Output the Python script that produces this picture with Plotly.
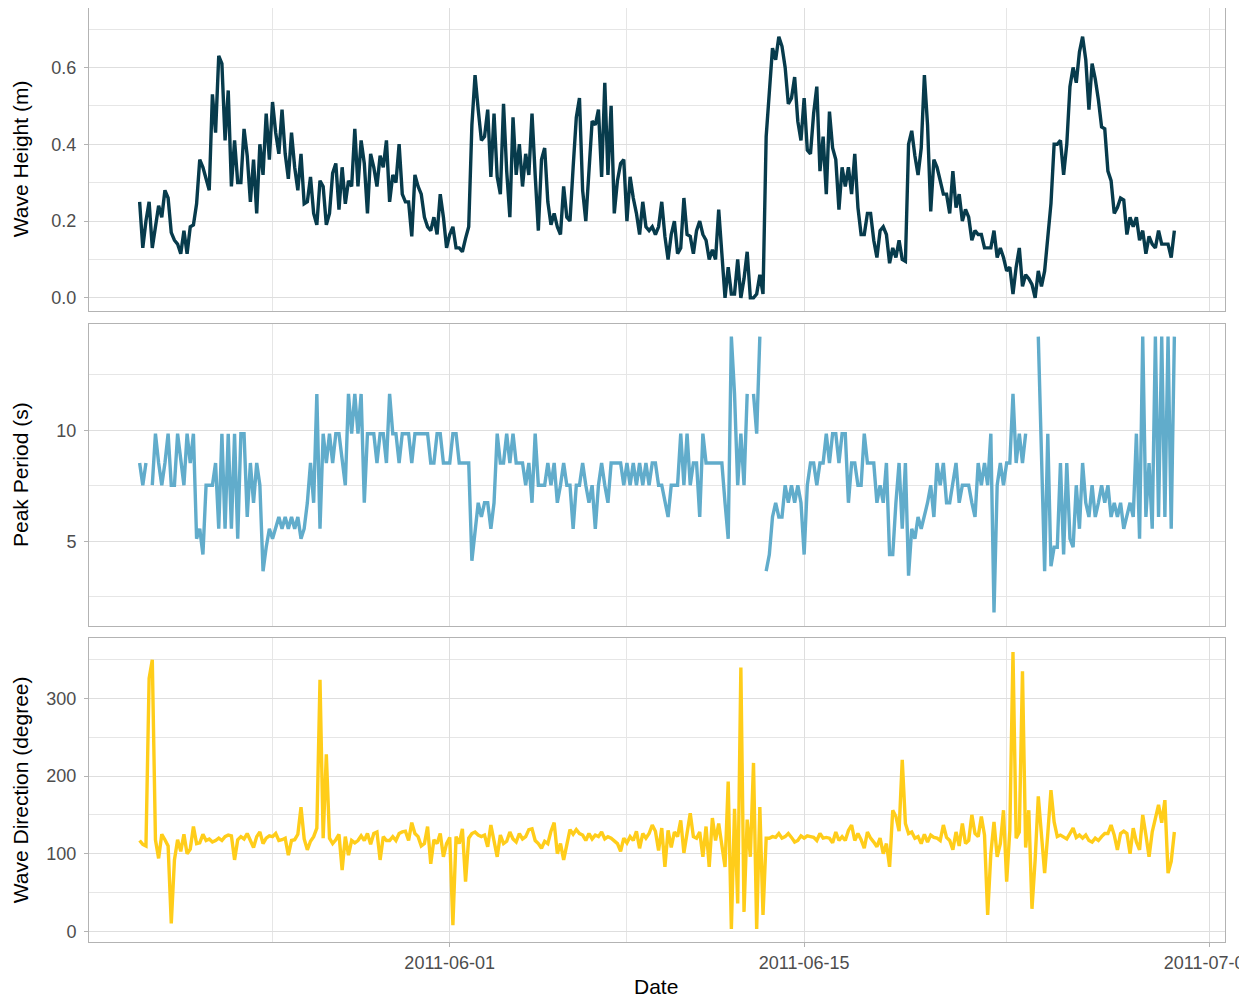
import pandas as pd
import plotly.graph_objects as go
from plotly.subplots import make_subplots

nan = float("nan")

# 3-hourly observations starting 2011-05-19 18:00 (one row per day)
start_time = "2011-05-19 18:00"

wave_height = [
    0.25, 0.13,
    0.20, 0.25, 0.13, 0.18, 0.24, 0.21, 0.28, 0.26,
    0.17, 0.15, 0.14, 0.115, 0.175, 0.115, 0.185, 0.19,
    0.245, 0.36, 0.34, 0.31, 0.28, 0.53, 0.43, 0.63,
    0.61, 0.41, 0.54, 0.29, 0.41, 0.30, 0.30, 0.44,
    0.37, 0.25, 0.36, 0.22, 0.40, 0.32, 0.48, 0.36,
    0.51, 0.43, 0.375, 0.49, 0.375, 0.31, 0.43, 0.34,
    0.28, 0.375, 0.245, 0.25, 0.315, 0.22, 0.19, 0.305,
    0.29, 0.19, 0.22, 0.325, 0.35, 0.23, 0.34, 0.245,
    0.305, 0.29, 0.44, 0.29, 0.41, 0.35, 0.22, 0.375,
    0.34, 0.29, 0.37, 0.34, 0.41, 0.25, 0.32, 0.30,
    0.40, 0.27, 0.25, 0.25, 0.16, 0.32, 0.29, 0.27,
    0.21, 0.185, 0.175, 0.21, 0.165, 0.27, 0.21, 0.13,
    0.165, 0.185, 0.13, 0.13, 0.12, 0.155, 0.185, 0.45,
    0.58, 0.49, 0.41, 0.42, 0.49, 0.315, 0.48, 0.315,
    0.27, 0.505, 0.33, 0.21, 0.47, 0.32, 0.40, 0.29,
    0.375, 0.32, 0.48, 0.32, 0.175, 0.36, 0.39, 0.25,
    0.19, 0.22, 0.185, 0.165, 0.29, 0.21, 0.20, 0.34,
    0.47, 0.52, 0.28, 0.20, 0.33, 0.46, 0.45, 0.49,
    0.315, 0.56, 0.32, 0.50, 0.22, 0.305, 0.35, 0.36,
    0.20, 0.315, 0.26, 0.22, 0.165, 0.25, 0.185, 0.175,
    0.185, 0.165, 0.185, 0.25, 0.16, 0.10, 0.165, 0.20,
    0.115, 0.13, 0.26, 0.165, 0.16, 0.115, 0.175, 0.20,
    0.165, 0.15, 0.10, 0.125, 0.10, 0.23, 0.115, 0.0,
    0.08, 0.01, 0.01, 0.10, 0.0, 0.05, 0.12, 0.0,
    0.0, 0.01, 0.06, 0.01, 0.42, 0.55, 0.65, 0.62,
    0.68, 0.655, 0.60, 0.505, 0.52, 0.575, 0.46, 0.41,
    0.52, 0.385, 0.375, 0.48, 0.55, 0.33, 0.42, 0.27,
    0.485, 0.39, 0.36, 0.23, 0.34, 0.29, 0.34, 0.27,
    0.375, 0.235, 0.165, 0.165, 0.22, 0.22, 0.15, 0.105,
    0.175, 0.185, 0.165, 0.09, 0.13, 0.105, 0.15, 0.10,
    0.095, 0.40, 0.435, 0.37, 0.32, 0.39, 0.58, 0.45,
    0.225, 0.36, 0.34, 0.305, 0.27, 0.27, 0.22, 0.33,
    0.235, 0.27, 0.20, 0.23, 0.21, 0.15, 0.175, 0.165,
    0.165, 0.13, 0.13, 0.13, 0.175, 0.105, 0.13, 0.105,
    0.07, 0.08, 0.01, 0.08, 0.13, 0.03, 0.06, 0.05,
    0.035, 0.0, 0.07, 0.03, 0.07, 0.15, 0.245, 0.40,
    0.40, 0.41, 0.32, 0.40, 0.55, 0.60, 0.56, 0.64,
    0.68, 0.62, 0.49, 0.61, 0.57, 0.515, 0.445, 0.44,
    0.33, 0.305, 0.22, 0.235, 0.26, 0.255, 0.165, 0.21,
    0.185, 0.21, 0.15, 0.175, 0.115, 0.16, 0.14, 0.13,
    0.175, 0.14, 0.14, 0.14, 0.105, 0.175,
]

peak_period = [
    8.53, 7.53,
    8.53, nan, 7.53, 9.85, 8.53, 7.53, 8.53, 9.85,
    7.53, 7.53, 9.85, 8.53, 7.53, 9.85, 8.53, 9.85,
    5.12, 5.57, 4.41, 7.53, 7.53, 7.53, 8.53, 5.57,
    9.85, 5.57, 9.85, 5.57, 9.85, 5.12, 9.85, 9.85,
    6.10, 8.53, 6.74, 8.53, 7.53, 3.66, 4.74, 5.57,
    5.12, 5.57, 6.10, 5.57, 6.10, 5.57, 6.10, 5.57,
    6.10, 5.12, 5.57, 6.74, 8.53, 6.74, 11.64, 5.57,
    9.85, 8.53, 9.85, 8.53, 9.85, 9.85, 8.53, 7.53,
    11.64, 9.85, 11.64, 9.85, 11.64, 6.74, 9.85, 9.85,
    9.85, 8.53, 9.85, 9.85, 8.53, 11.64, 9.85, 9.85,
    8.53, 9.85, 9.85, 9.85, 8.53, 9.85, 9.85, 9.85,
    9.85, 9.85, 8.53, 8.53, 9.85, 9.85, 8.53, 8.53,
    8.53, 9.85, 9.85, 8.53, 8.53, 8.53, 8.53, 4.13,
    5.57, 6.74, 6.10, 6.74, 6.74, 5.57, 6.74, 9.85,
    8.53, 8.53, 9.85, 8.53, 9.85, 8.53, 8.53, 8.53,
    7.53, 8.53, 6.74, 9.85, 7.53, 7.53, 7.53, 8.53,
    7.53, 8.53, 6.74, 7.53, 8.53, 7.53, 7.53, 5.57,
    7.53, 7.53, 8.53, 7.53, 6.74, 7.53, 5.57, 7.53,
    8.53, 7.53, 6.74, 8.53, 8.53, 8.53, 8.53, 7.53,
    8.53, 7.53, 8.53, 7.53, 8.53, 7.53, 8.53, 7.53,
    8.53, 8.53, 7.53, 7.53, 6.74, 6.10, 7.53, 7.53,
    7.53, 9.85, 7.53, 9.85, 7.53, 8.53, 8.53, 6.10,
    9.85, 8.53, 8.53, 8.53, 8.53, 8.53, 8.53, 6.74,
    5.12, 14.22, 11.64, 7.53, 9.85, 7.53, 11.64, nan,
    11.64, 9.85, 14.22, nan, 3.66, 4.41, 6.10, 6.74,
    6.10, 6.10, 7.53, 6.74, 7.53, 6.74, 7.53, 6.74,
    4.41, 7.53, 8.53, 8.53, 7.53, 8.53, 8.53, 9.85,
    8.53, 9.85, 9.85, 8.53, 9.85, 9.85, 6.74, 8.53,
    8.53, 7.53, 7.53, 9.85, 8.53, 8.53, 8.53, 6.74,
    7.53, 6.74, 8.53, 4.41, 4.41, 6.74, 8.53, 5.57,
    8.53, 3.46, 5.57, 5.12, 6.10, 5.57, 6.10, 6.74,
    7.53, 6.10, 8.53, 7.53, 8.53, 6.74, 6.74, 7.53,
    8.53, 6.74, 7.53, 7.53, 7.53, 6.74, 6.10, 8.53,
    7.53, 8.53, 7.53, 9.85, 1.80, 7.53, 8.53, 7.53,
    8.53, 8.53, 11.64, 8.53, 9.85, 8.53, 9.85, nan,
    nan, nan, 14.22, 8.53, 3.66, 9.85, 3.88, 4.74,
    4.74, 8.53, 4.41, 8.53, 5.12, 4.74, 7.53, 5.57,
    8.53, 6.74, 6.10, 7.53, 6.10, 6.74, 7.53, 6.74,
    7.53, 6.10, 6.74, 6.10, 6.74, 5.57, 6.10, 6.74,
    6.10, 9.85, 5.12, 14.22, 6.10, 8.53, 5.57, 14.22,
    6.10, 14.22, 6.10, 14.22, 5.57, 14.22,
]

wave_direction = [
    117, 112,
    110, 326, 350, 118, 94, 125, 118, 110,
    10, 92, 118, 103, 125, 100, 106, 135,
    113, 114, 125, 117, 119, 115, 117, 120,
    117, 122, 124, 123, 92, 118, 122, 119,
    126, 118, 108, 122, 128, 113, 120, 123,
    122, 126, 117, 118, 120, 98, 117, 118,
    125, 160, 119, 105, 116, 122, 133, 324,
    120, 228, 120, 113, 118, 125, 79, 122,
    98, 117, 114, 117, 123, 117, 126, 112,
    126, 128, 92, 122, 117, 117, 122, 117,
    126, 128, 129, 117, 140, 126, 122, 110,
    113, 135, 87, 118, 113, 126, 96, 113,
    121, 8, 122, 113, 132, 64, 120, 126,
    128, 124, 122, 124, 109, 137, 118, 96,
    124, 113, 116, 128, 119, 115, 126, 119,
    122, 131, 132, 117, 113, 107, 116, 113,
    129, 140, 100, 113, 92, 113, 131, 125,
    131, 126, 124, 117, 126, 119, 124, 122,
    128, 119, 122, 120, 117, 113, 103, 120,
    114, 122, 117, 129, 107, 126, 120, 126,
    137, 129, 104, 133, 83, 130, 108, 128,
    122, 143, 101, 126, 152, 122, 120, 128,
    96, 135, 83, 146, 117, 139, 108, 83,
    193, 3, 158, 36, 340, 25, 144, 96,
    217, 3, 160, 21, 120, 120, 122, 121,
    126, 120, 122, 126, 121, 115, 117, 123,
    120, 123, 122, 121, 117, 126, 120, 121,
    120, 114, 128, 117, 122, 117, 130, 137,
    117, 126, 118, 107, 128, 120, 115, 109,
    120, 100, 113, 83, 156, 148, 129, 221,
    139, 126, 128, 120, 122, 113, 125, 115,
    124, 121, 120, 117, 137, 121, 117, 105,
    128, 110, 139, 113, 117, 150, 126, 122,
    148, 124, 21, 100, 141, 96, 113, 156,
    64, 130, 360, 120, 128, 335, 108, 156,
    29, 92, 174, 130, 75, 126, 182, 141,
    122, 124, 121, 119, 126, 133, 121, 124,
    120, 124, 117, 115, 120, 117, 122, 126,
    126, 137, 124, 105, 126, 129, 126, 100,
    133, 115, 105, 150, 124, 96, 128, 146,
    163, 140, 169, 75, 90, 128,
]

date_ticks = ["2011-06-01", "2011-06-15", "2011-07-01"]
date_minor = ["2011-05-25", "2011-06-08", "2011-06-23"]
x_range = ["2011-05-17 18:00", "2011-07-01 15:00"]

titles = ["Wave Height (m)", "Peak Period (s)", "Wave Direction (degree)"]
colors = ["#073B4C", "#61ACCB", "#FFCD1A"]
y_ranges = [[-0.033, 0.7547], [1.17, 14.81], [-13.8, 377.4]]
y_dticks = [0.2, 5, 100]
y_minor = [0.1, 2.5, 50]
y_formats = [".1f", "d", "d"]
domains = [[0.6761, 1.0], [0.3378, 0.6622], [0.0, 0.3250]]

dates = pd.date_range(start_time, periods=len(wave_height), freq="3h")
series = [wave_height, peak_period, wave_direction]

fig = make_subplots(rows=3, cols=1, shared_xaxes=True, vertical_spacing=0.02)

for k, vals in enumerate(series):
    fig.add_trace(
        go.Scatter(x=dates, y=vals, mode="lines",
                   line=dict(color=colors[k], width=3.4),
                   connectgaps=False, showlegend=False, hoverinfo="skip"),
        row=k + 1, col=1)

FONT = "Liberation Sans, Arial, Helvetica, sans-serif"
GRID = "#DEDEDE"
BORDER = "#B3B3B3"
TICK_SIZE = 18
TITLE_SIZE = 21

for k in range(3):
    xname = "xaxis" if k == 0 else f"xaxis{k+1}"
    yname = "yaxis" if k == 0 else f"yaxis{k+1}"
    bottom = (k == 2)
    fig.layout[xname].update(
        type="date", range=x_range,
        tickmode="array", tickvals=date_ticks, ticktext=date_ticks,
        showticklabels=bottom, ticklabeloverflow="allow",
        ticks="outside" if bottom else "", ticklen=4, tickcolor=BORDER, tickwidth=1,
        showgrid=True, gridcolor=GRID, gridwidth=1,
        minor=dict(tickmode="array", tickvals=date_minor, showgrid=True,
                   gridcolor="#E6E6E6", gridwidth=0.6, ticks=""),
        showline=True, linecolor=BORDER, linewidth=1, mirror=True,
        zeroline=False,
        tickfont=dict(family=FONT, size=TICK_SIZE, color="#4D4D4D"),
    )
    fig.layout[yname].update(
        domain=domains[k], range=y_ranges[k],
        tickmode="linear", tick0=0, dtick=y_dticks[k], tickformat=y_formats[k],
        ticks="outside", ticklen=4, tickcolor=BORDER, tickwidth=1,
        ticklabelstandoff=4,
        showgrid=True, gridcolor=GRID, gridwidth=1,
        minor=dict(tick0=0, dtick=y_minor[k], showgrid=True,
                   gridcolor="#E6E6E6", gridwidth=0.6, ticks=""),
        showline=True, linecolor=BORDER, linewidth=1, mirror=True,
        zeroline=False,
        tickfont=dict(family=FONT, size=TICK_SIZE, color="#4D4D4D"),
    )

annotations = []
for k in range(3):
    annotations.append(dict(
        text=titles[k], xref="paper", yref="paper",
        x=-0.0607, y=(domains[k][0] + domains[k][1]) / 2,
        xanchor="center", yanchor="middle", textangle=-90, showarrow=False,
        font=dict(family=FONT, size=TITLE_SIZE, color="#000000")))
annotations.append(dict(
    text="Date", xref="paper", yref="paper", x=0.4995, y=-0.048,
    xanchor="center", yanchor="middle", showarrow=False,
    font=dict(family=FONT, size=TITLE_SIZE, color="#000000")))

# the page body shifts the figure by 8px right and down; margins compensate
fig.update_layout(
    width=1247, height=1000,
    margin=dict(l=81, r=30, t=0, b=66),
    paper_bgcolor="white", plot_bgcolor="white",
    font=dict(family=FONT),
    annotations=annotations,
    showlegend=False,
)

fig.write_html("out.html")
